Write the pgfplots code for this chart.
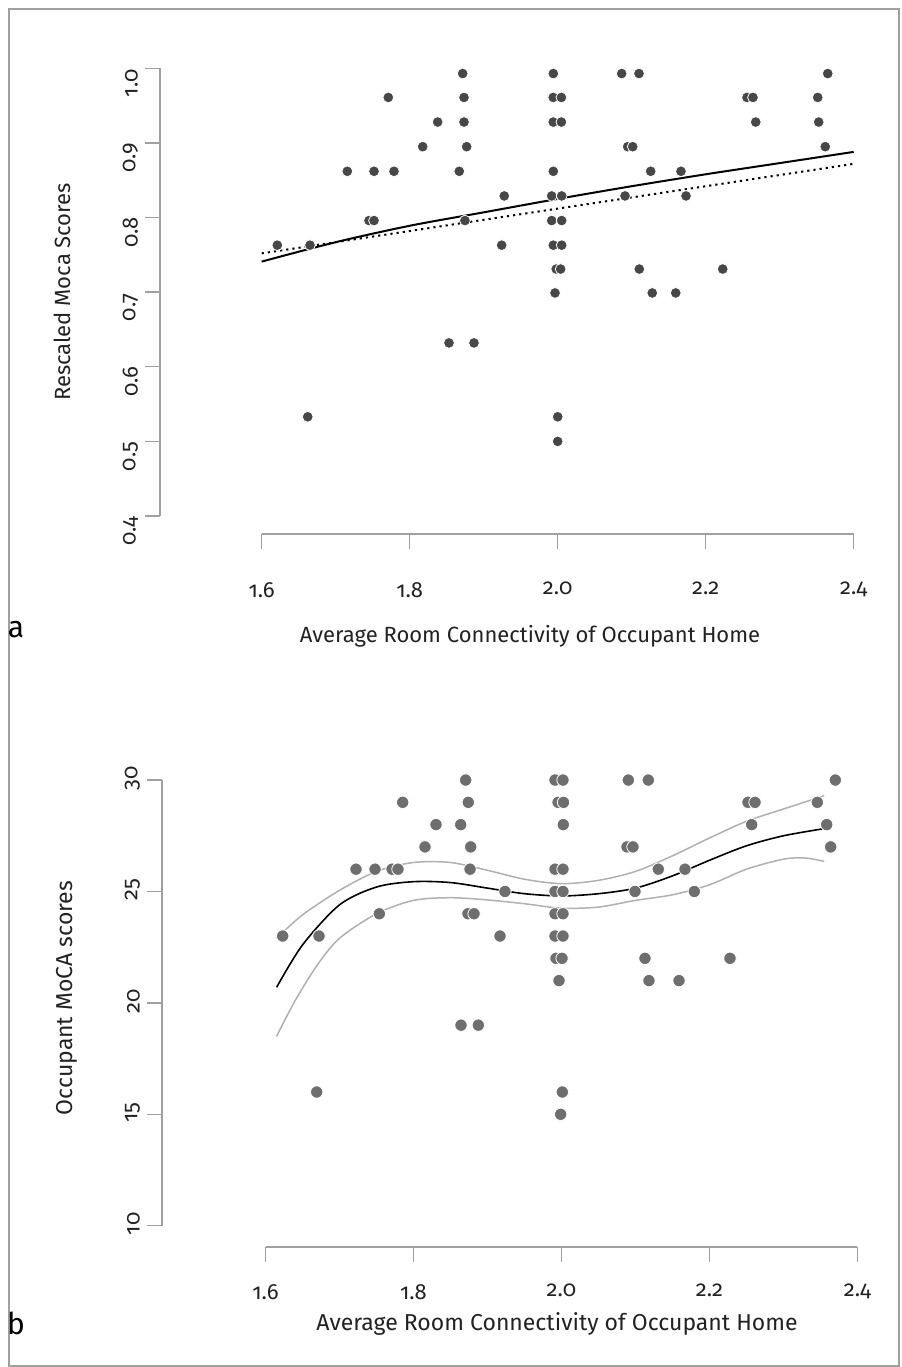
\documentclass[border=0pt]{standalone}
\usepackage{fontspec}
\setmainfont{Fira Sans}[Numbers=OldStyle]
\usepackage{pgfplots}
\pgfplotsset{compat=1.18}
\definecolor{axgray}{HTML}{A0A0A0}
\definecolor{dota}{HTML}{474747}
\definecolor{dotb}{HTML}{6E6E6E}
\definecolor{band}{HTML}{B0B0B0}
\definecolor{txt}{HTML}{222222}
\pgfplotsset{
  panel/.style={scale only axis, clip=false,
    axis x line*=bottom, axis y line*=left, axis line style={draw=none},
    tick align=outside, major tick length=7.5pt,
    tick style={axgray, line width=0.7pt},
    xtick={1.6,1.8,2.0,2.2,2.4}, xticklabels={1.6,1.8,2.0,2.2,2.4},
    ticklabel style={font=\fontsize{11}{13}\selectfont, text=txt},
    yticklabel style={rotate=90, anchor=south},
    xticklabel style={anchor=north}},
}
\begin{document}
\begin{tikzpicture}[x=0.5pt,y=0.5pt]
\useasboundingbox (0,0) rectangle (901,-1367);
\draw[axgray, line width=1pt] (9,-9) rectangle (899,-1366);
\coordinate (pa) at (160,-534);
\coordinate (pb) at (162,-1247);

% ---- panel a
\begin{axis}[panel, at={(pa)}, anchor=south west,
  width=354.25pt, height=240.3pt,
  xmin=1.4626, xmax=2.42, ymin=0.3759, ymax=1.02,
  ytick={0.4,0.5,0.6,0.7,0.8,0.9,1.0},
  yticklabels={0.4,0.5,0.6,0.7,0.8,0.9,1.0},
  yticklabel style={xshift=-7.5pt},
  xticklabel style={yshift=-13pt}]
\draw[axgray, line width=0.7pt] (axis cs:1.6,0.3759) -- (axis cs:2.4,0.3759);
\draw[axgray, line width=0.7pt] (axis cs:1.4626,0.4) -- (axis cs:1.4626,1.0);
\addplot[only marks, mark=*, mark size=2.7pt, mark options={fill=dota, draw=white, line width=0.4pt}] coordinates {
(1.8716,0.993) (1.9941,0.993) (2.0865,0.993) (2.1099,0.993) (2.3649,0.993)
(1.7711,0.961) (1.8734,0.961) (1.994,0.961) (2.005,0.961) (2.2558,0.961) (2.2639,0.961) (2.3514,0.961)
(1.8378,0.928) (1.8734,0.928) (1.994,0.928) (2.005,0.928) (2.2676,0.928) (2.3527,0.928)
(1.8176,0.895) (1.877,0.895) (2.0946,0.895) (2.1014,0.895) (2.3616,0.895)
(1.7157,0.862) (1.7518,0.862) (1.7788,0.862) (1.867,0.862) (1.9941,0.862) (2.1257,0.862) (2.1666,0.862)
(1.9278,0.829) (1.9919,0.829) (2.0054,0.829) (2.091,0.829) (2.1734,0.829)
(1.7450,0.796) (1.7518,0.796) (1.8747,0.796) (1.9919,0.796) (2.0054,0.796)
(1.6211,0.763) (1.6653,0.763) (1.9243,0.763) (1.9941,0.763) (2.0054,0.763)
(1.998,0.731) (2.004,0.731) (2.1103,0.731) (2.223,0.731)
(1.9964,0.699) (2.1278,0.699) (2.1595,0.699)
(1.8531,0.632) (1.8869,0.632)
(1.6622,0.533) (2.0,0.533)
(2.0,0.500)
};
\addplot[black, line width=1pt, smooth] coordinates {
(1.6,0.741) (1.7,0.767) (1.8,0.789) (1.9,0.807) (2.0,0.825) (2.1,0.842) (2.2,0.858) (2.3,0.873) (2.4,0.888)
};
\addplot[black, line width=1pt, dash pattern=on 1.1pt off 2pt] coordinates {
(1.6,0.752) (2.4,0.872)
};
\end{axis}
\node[text=txt, font=\fontsize{11}{13}\selectfont, rotate=90] at (62,-292) {Rescaled Moca Scores};
\node[text=txt, font=\fontsize{11}{13}\selectfont] at (530,-636) {Average Room Connectivity of Occupant Home};
\node[text=black, font=\fontsize{15}{17}\selectfont] at (16,-630) {a};

% ---- panel b
\begin{axis}[panel, at={(pb)}, anchor=south west,
  width=355.15pt, height=239.05pt,
  xmin=1.4601, xmax=2.42, ymin=9.044, ymax=30.5,
  ytick={10,15,20,25,30}, yticklabels={10,15,20,25,30},
  yticklabel style={xshift=1pt},
  xticklabel style={yshift=-7.5pt}]
\draw[axgray, line width=0.7pt] (axis cs:1.6,9.044) -- (axis cs:2.4,9.044);
\draw[axgray, line width=0.7pt] (axis cs:1.4601,10) -- (axis cs:1.4601,30);
\addplot[only marks, mark=*, mark size=3.1pt, mark options={fill=dotb, draw=white, line width=0.4pt}] coordinates {
(1.8705,30) (1.9912,30) (2.002,30) (2.0903,30) (2.1173,30) (2.37,30)
(1.7854,29) (1.874,29) (1.9953,29) (2.0027,29) (2.252,29) (2.2615,29) (2.3457,29)
(1.8304,28) (1.8638,28) (2.0024,28) (2.257,28) (2.3584,28)
(1.8155,27) (1.8773,27) (2.0885,27) (2.0966,27) (2.3638,27)
(1.7223,26) (1.748,26) (1.771,26) (1.779,26) (1.8764,26) (1.9912,26) (2.002,26) (2.1308,26) (2.1669,26)
(1.9236,25) (1.9912,25) (2.002,25) (2.0993,25) (2.1795,25)
(1.7538,24) (1.8736,24) (1.8818,24) (1.9912,24) (2.002,24)
(1.6232,23) (1.6723,23) (1.9169,23) (1.9912,23) (2.002,23)
(1.9926,22) (2.0007,22) (2.1128,22) (2.2277,22)
(1.9966,21) (2.1182,21) (2.1588,21)
(1.8642,19) (1.8876,19)
(1.6692,16) (2.0011,16)
(1.9989,15)
};
\addplot[band, line width=0.75pt, smooth] coordinates {
(1.615,22.9) (1.65,23.95) (1.70,25.05) (1.75,25.9) (1.80,26.3) (1.85,26.3) (1.90,25.95) (1.95,25.55) (2.0,25.35) (2.05,25.5) (2.10,25.9) (2.15,26.6) (2.20,27.4) (2.25,28.15) (2.30,28.7) (2.355,29.3)
};
\addplot[band, line width=0.75pt, smooth] coordinates {
(1.615,18.5) (1.64,20.1) (1.67,21.7) (1.70,22.9) (1.75,24.0) (1.80,24.6) (1.85,24.72) (1.90,24.62) (1.95,24.45) (2.0,24.25) (2.05,24.3) (2.10,24.6) (2.15,24.85) (2.20,25.3) (2.25,26.0) (2.30,26.45) (2.33,26.5) (2.355,26.35)
};
\addplot[black, line width=0.8pt, smooth] coordinates {
(1.615,20.7) (1.65,22.6) (1.70,24.4) (1.75,25.2) (1.80,25.44) (1.85,25.4) (1.90,25.15) (1.95,24.9) (2.0,24.8) (2.05,24.9) (2.10,25.15) (2.15,25.7) (2.20,26.4) (2.25,27.05) (2.30,27.5) (2.355,27.82)
};
\end{axis}
\node[text=txt, font=\fontsize{11.5}{13}\selectfont, rotate=90] at (67,-998) {Occupant MoCA scores};
\node[text=txt, font=\fontsize{11.5}{13}\selectfont] at (557,-1324) {Average Room Connectivity of Occupant Home};
\node[text=black, font=\fontsize{15}{17}\selectfont] at (16,-1323) {b};
\end{tikzpicture}
\end{document}
